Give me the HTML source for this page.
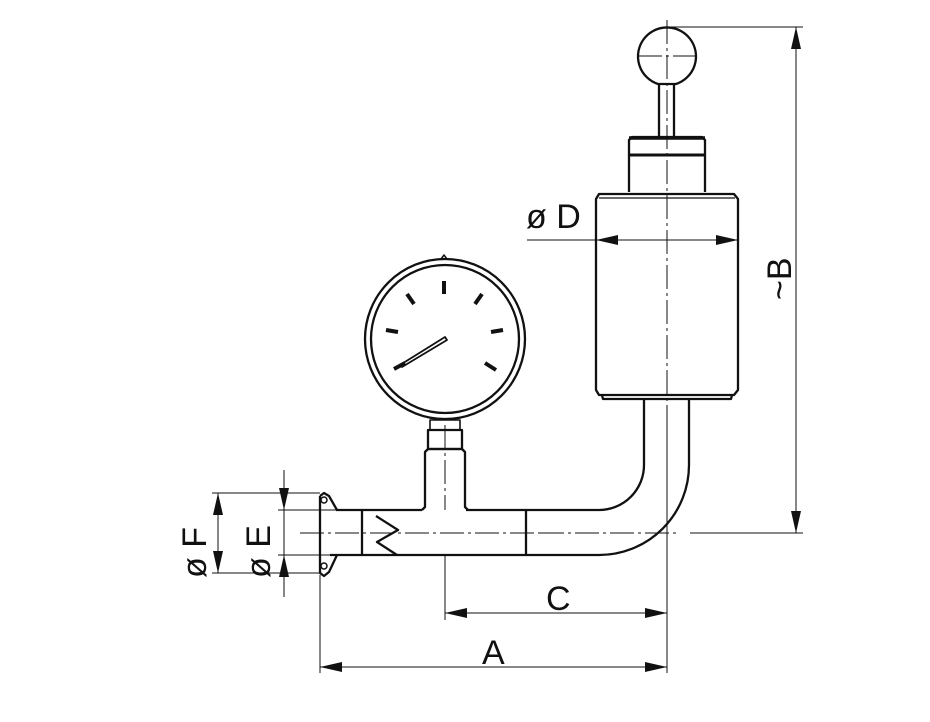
<!DOCTYPE html>
<html><head><style>body{margin:0;background:#fff}svg{display:block}</style></head><body>
<svg width="930" height="722" viewBox="0 0 930 722" xmlns="http://www.w3.org/2000/svg">
<defs><marker id="a" markerWidth="22" markerHeight="10" refX="22" refY="5" orient="auto" markerUnits="userSpaceOnUse"><path d="M0,0 L22,5 L0,10z" fill="#111"/></marker></defs>
<g fill="none" stroke="#111" stroke-width="2.3" stroke-linejoin="round">
<path d="M658,84 A29,29 0 1 1 676,84 Z"/>
<line x1="659" y1="84" x2="659" y2="137"/><line x1="674" y1="84" x2="674" y2="137"/>
<path d="M629,192 V140 L632,137 H702 L705,140 V192"/>
<line x1="629" y1="138" x2="705" y2="138" stroke-width="3.5"/>
<line x1="629" y1="155" x2="705" y2="155" stroke-width="3"/>
<path d="M596,390 V199 L599,194 H734 L738,199 V390 L734,395 H599 Z"/>
<line x1="599" y1="198" x2="735" y2="198" stroke-width="1.2"/>
<path d="M602,395 L603,399 H731 L732,395"/>
<path d="M644,399 V465 A45,45 0 0 1 599,510 H466"/>
<path d="M689,399 V465 A90,90 0 0 1 599,555 H330"/>
<line x1="422" y1="510" x2="336" y2="510"/>
<line x1="526" y1="510" x2="526" y2="555"/>
<line x1="362" y1="510" x2="362" y2="555"/>
<path d="M376,516 L398,530 L377,542 L397,555"/>
<path d="M320,496 L324,493 L329,496 L337,510 M320,496 V573 L324,576 L329,572 L337,555"/>
<circle cx="324" cy="500" r="3" stroke-width="1.5"/><circle cx="324" cy="566" r="3" stroke-width="1.5"/>
<path d="M422,510 L425,507 V452 L428,449 H462 L465,452 V507 L468,510"/>
<rect x="428" y="430" width="34" height="19"/>
<rect x="430" y="420" width="30" height="10" stroke-width="1.6"/>
<circle cx="445" cy="339" r="80"/>
<circle cx="445" cy="339" r="74"/>
<path d="M441,259 L444,255 L447,259" stroke-width="1.5"/>
<g stroke-width="4" stroke-linecap="butt">
<line x1="444" y1="281" x2="444" y2="294"/>
<line x1="407" y1="294" x2="414" y2="304"/>
<line x1="482" y1="294" x2="475" y2="304"/>
<line x1="386" y1="330" x2="398" y2="332"/>
<line x1="491" y1="332" x2="503" y2="330"/>
<line x1="485" y1="363" x2="496" y2="370"/>
<line x1="394" y1="369" x2="405" y2="363"/>
</g>
<path d="M400,365 L445,337 L447,340 L402,367 Z" stroke-width="1.8"/>
</g>
<g stroke="#111" stroke-width="1" stroke-dasharray="24,4,3,4" fill="none">
<line x1="667" y1="20" x2="667" y2="410"/>
<line x1="638" y1="56" x2="696" y2="56"/>
<line x1="300" y1="533" x2="540" y2="533"/>
<line x1="540" y1="533" x2="680" y2="533"/>
<line x1="445" y1="425" x2="445" y2="510"/>
</g>
<g stroke="#111" stroke-width="1" fill="none">
<line x1="667" y1="27" x2="803" y2="27"/><line x1="690" y1="533" x2="803" y2="533"/>
<line x1="796" y1="280" x2="796" y2="27" marker-end="url(#a)"/>
<line x1="796" y1="280" x2="796" y2="533" marker-end="url(#a)"/>
<line x1="527" y1="240" x2="596" y2="240" />
<line x1="667" y1="240" x2="596" y2="240" marker-end="url(#a)"/>
<line x1="667" y1="240" x2="738" y2="240" marker-end="url(#a)"/>
<line x1="445" y1="555" x2="445" y2="620"/>
<line x1="667" y1="410" x2="667" y2="673"/>
<line x1="320" y1="575" x2="320" y2="673"/>
<line x1="555" y1="613" x2="445" y2="613" marker-end="url(#a)"/>
<line x1="555" y1="613" x2="667" y2="613" marker-end="url(#a)"/>
<line x1="490" y1="667" x2="320" y2="667" marker-end="url(#a)"/>
<line x1="490" y1="667" x2="667" y2="667" marker-end="url(#a)"/>
<line x1="212" y1="493" x2="320" y2="493"/><line x1="212" y1="573" x2="320" y2="573"/>
<line x1="218" y1="533" x2="218" y2="493" marker-end="url(#a)"/>
<line x1="218" y1="533" x2="218" y2="573" marker-end="url(#a)"/>
<line x1="278" y1="510" x2="336" y2="510"/><line x1="278" y1="555" x2="336" y2="555"/>
<line x1="284" y1="470" x2="284" y2="510" marker-end="url(#a)"/>
<line x1="284" y1="597" x2="284" y2="555" marker-end="url(#a)"/>
<line x1="284" y1="510" x2="284" y2="555"/>
</g>
<g font-family="Liberation Sans, sans-serif" font-size="34" fill="#111">
<text x="526" y="228">ø D</text>
<text x="546" y="610">C</text>
<text x="482" y="664">A</text>
<text transform="translate(791,300) rotate(-90)">~B</text>
<text transform="translate(206,578) rotate(-90)">ø F</text>
<text transform="translate(270,578) rotate(-90)">ø E</text>
</g>
</svg>
</body></html>
